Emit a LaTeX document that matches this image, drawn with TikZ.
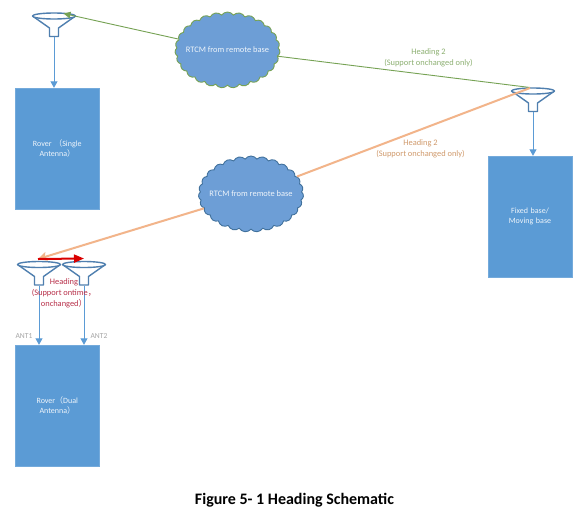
\documentclass[tikz,border=0pt]{standalone}
\usepackage{fontspec}
\setmainfont{Carlito}
\newfontfamily\cjkf{Noto Sans CJK SC}
\usetikzlibrary{shapes.symbols,arrows.meta,calc}
\definecolor{boxblue}{HTML}{5B9BD5}
\definecolor{cloudblue}{HTML}{6D9ED6}
\definecolor{funnelblue}{HTML}{4F7FAF}
\definecolor{edgeblue}{HTML}{41719C}
\definecolor{greenline}{HTML}{76A254}
\definecolor{orangeline}{HTML}{F2B48A}
\definecolor{greentext}{HTML}{8DB072}
\definecolor{orangetext}{HTML}{D09A6C}
\definecolor{redtext}{HTML}{B8304A}
\tikzset{
  devbox/.style={rectangle,fill=boxblue,draw=boxblue!85!white,line width=0.4pt,minimum width=84pt,minimum height=121pt,inner sep=0pt,text=white!90!boxblue,font=\fontsize{8}{10.5}\selectfont,align=center,text width=76pt},
  puffy/.style={cloud,cloud puffs=27,cloud puff arc=110,cloud ignores aspect,fill=cloudblue,line width=0.9pt,minimum width=105pt,minimum height=76pt,inner sep=0pt,text=white!90!boxblue,font=\fontsize{8.4}{10}\selectfont},
  funnelbox/.style={rectangle,minimum width=43pt,minimum height=24pt,inner sep=0pt},
  funnelline/.style={draw=funnelblue,line width=1.4pt,line join=round,fill=white},
  feed/.style={draw=boxblue,line width=1pt,-{Triangle[length=6.5pt,width=7pt]}},
  note/.style={inner sep=0pt,align=center,font=\fontsize{8.4}{11}\selectfont},
  tag/.style={inner sep=0pt,text=gray!70,font=\fontsize{7.6}{9}\selectfont}
}
\newcommand{\funnelat}[3]{%
  \node[funnelbox] (#1) at (#2,#3) {};
  \begin{scope}[shift={(#1.center)}]
    \draw[funnelline] (-21.5,-9) -- (-4.5,3) -- (-4.5,11.5) -- (4.5,11.5) -- (4.5,3) -- (21.5,-9);
    \draw[funnelline] (0,-9) ellipse (21.5 and 3);
  \end{scope}}
\begin{document}
\begin{tikzpicture}[x=1pt,y=-1pt]
\useasboundingbox[fill=white] (0,0) rectangle (578,517);
\node[devbox] (rs) at (57.3,148.5) {Rover {\cjkf（}Single\\Antenna{\cjkf）}};
\node[devbox] (fb) at (530,216.5) {Fixed base/\\Moving base\\[11pt]};
\node[devbox] (rd) at (57.3,405.5) {Rover{\cjkf（}Dual\\Antenna{\cjkf）}};
\funnelat{f1}{54}{25}
\funnelat{f3}{533}{100}
\funnelat{f2a}{39}{273.5}
\funnelat{f2b}{84}{273.5}
\node[puffy,draw=greenline] (c1) at (227.5,50) {\makebox[0pt]{RTCM from remote base}};
\node[puffy,draw=edgeblue] (c2) at (251,194) {\makebox[0pt]{RTCM from remote base}};
\coordinate (tipgreen) at (63.5,13.5);
\coordinate (tiporange) at (38,259);
\coordinate (tipred) at (84,258.5);
\coordinate (srcgreen) at (530,87.5);
\coordinate (srcorange) at (530,88);
\draw[feed] (f1.south) -- (f1.south |- rs.north);
\draw[feed] (f3.south) -- (f3.south |- fb.north);
\draw[feed] (f2a.south) -- (f2a.south |- rd.north);
\draw[feed] (f2b.south) -- (f2b.south |- rd.north);
\draw[greenline,line width=0.9pt,-{Triangle[length=7pt,width=6.5pt]}] (c1) -- (tipgreen);
\draw[greenline,line width=0.9pt] (srcgreen) -- (c1);
\draw[orangeline,line width=2pt,-{Stealth[length=9pt,width=9pt,inset=2pt]}] (c2) -- (tiporange);
\draw[orangeline,line width=2pt] (srcorange) -- (c2);
\draw[red!85!black,line width=2pt,-{Triangle[length=10pt,width=8pt]}] (tiporange) -- (tipred);
\node[note,text=greentext] (h1) at (428.5,57.5) {Heading 2\\(Support onchanged only)};
\node[note,text=orangetext] (h2) at (420.5,148.5) {Heading 2\\(Support onchanged only)};
\node[note,text=redtext] (h3) at (64,293) {Heading\\(Support ontime{\cjkf，}\\onchanged{\cjkf）}};
\node[tag] (a1) at (24,336) {ANT1};
\node[tag] (a2) at (99,336) {ANT2};
\node[inner sep=0pt,font=\bfseries\fontsize{16}{18}\selectfont] (cap) at (294.5,500) {Figure 5- 1 Heading Schematic};
\end{tikzpicture}
\end{document}
